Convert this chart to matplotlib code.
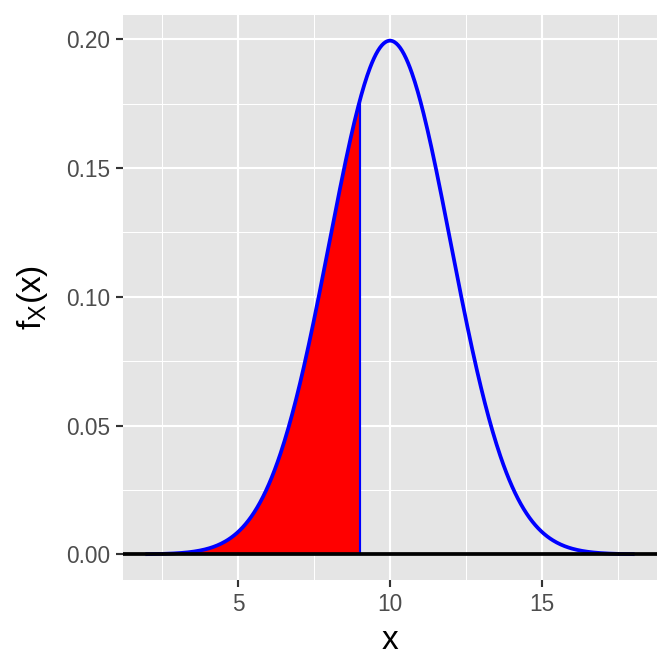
import numpy as np
import matplotlib.pyplot as plt

# normal density, mean 10, sd 2, drawn over [2, 18]; area shaded up to x = 9
mu = 10
sigma = 2
x_range = [2, 18]
cutoff = 9

x = np.linspace(x_range[0], x_range[1], 500)
fx = np.exp(-0.5 * ((x - mu) / sigma) ** 2) / (sigma * np.sqrt(2 * np.pi))
xs = x[x <= cutoff]
xs = np.append(xs, cutoff)
fs = np.exp(-0.5 * ((xs - mu) / sigma) ** 2) / (sigma * np.sqrt(2 * np.pi))

plt.rcParams['font.family'] = ['Liberation Sans', 'DejaVu Sans']

fig = plt.figure(figsize=(7, 7), dpi=96)
ax = fig.add_axes([123 / 672, 92 / 672, 534 / 672, 565 / 672])
ax.set_facecolor('#e5e5e5')

ax.fill_between(xs, 0, fs, color='#ff0000', lw=0, zorder=2)
ax.plot(x, fx, color='#0000ff', lw=2.8, zorder=3)
ax.plot([cutoff, cutoff], [0, fs[-1]], color='#0000ff', lw=1.6, zorder=3)
ax.axhline(0, color='black', lw=2.8, zorder=4)

span = x_range[1] - x_range[0]
ax.set_xlim(x_range[0] - 0.05 * span, x_range[1] + 0.05 * span)
ymax = fx.max()
ax.set_ylim(-0.05 * ymax, ymax * 1.05)

ax.set_xticks([5, 10, 15])
ax.set_xticks([2.5, 7.5, 12.5, 17.5], minor=True)
ax.set_yticks([0, 0.05, 0.10, 0.15, 0.20])
ax.set_yticks([0.025, 0.075, 0.125, 0.175], minor=True)
ax.set_yticklabels(['0.00', '0.05', '0.10', '0.15', '0.20'])
ax.grid(which='major', color='white', lw=1.6)
ax.grid(which='minor', color='white', lw=0.8)
ax.set_axisbelow(True)
for s in ax.spines.values():
    s.set_visible(False)
ax.tick_params(which='major', length=5.5, width=1.6, color='#333333',
               labelsize=17, labelcolor='#4d4d4d', pad=4)
ax.tick_params(which='minor', length=0)

ax.set_xlabel('x', fontsize=25, labelpad=7)
ax.set_ylabel(r'f$_\mathregular{X}$(x)', fontsize=25, labelpad=12)

fig.savefig('out.png', dpi=96)
